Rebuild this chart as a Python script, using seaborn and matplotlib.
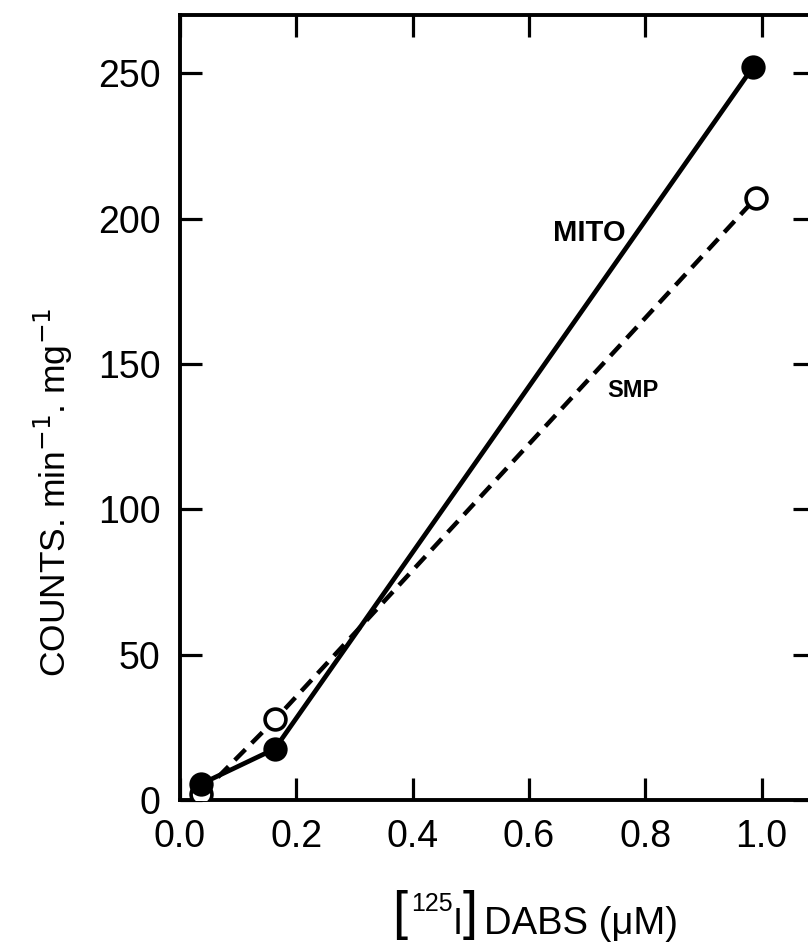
import matplotlib
matplotlib.use("Agg")
import matplotlib.pyplot as plt
import seaborn as sns
import pandas as pd

# Binding of [125I]DABS to mitochondria and submitochondrial particles
dabs_uM_mito = [0.036, 0.163, 0.985]
counts_mito = [5.5, 17.6, 252]
dabs_uM_smp = [0.036, 0.164, 0.99]
counts_smp = [2.0, 27.8, 207]

x_ticks = [0.0, 0.2, 0.4, 0.6, 0.8, 1.0]
x_tick_labels = ["0.0", "0.2", "0.4", "0.6", "0.8", "1.0"]
y_ticks = [0, 50, 100, 150, 200, 250]
y_tick_labels = ["0", "50", "100", "150", "200", "250"]

mito = pd.DataFrame({"dabs": dabs_uM_mito, "counts": counts_mito})
smp = pd.DataFrame({"dabs": dabs_uM_smp, "counts": counts_smp})

sns.set_style("ticks")
plt.rcParams["font.family"] = ["Liberation Sans", "DejaVu Sans"]
plt.rcParams["text.color"] = "black"
plt.rcParams["axes.edgecolor"] = "black"
plt.rcParams["axes.labelcolor"] = "black"
plt.rcParams["xtick.color"] = "black"
plt.rcParams["ytick.color"] = "black"

fig = plt.figure(figsize=(8.08, 9.43), dpi=100)
ax = fig.add_axes([0.2228, 0.1516, 0.7859, 0.8325])

sns.lineplot(data=smp, x="dabs", y="counts", ax=ax, color="black",
             linewidth=3.2, linestyle=(0, (3.4, 2.0)), marker="o",
             markersize=15, markerfacecolor="white", markeredgecolor="black",
             markeredgewidth=2.6, zorder=3)
sns.lineplot(data=mito, x="dabs", y="counts", ax=ax, color="black",
             linewidth=3.4, marker="o", markersize=16,
             markerfacecolor="black", markeredgecolor="black",
             markeredgewidth=1.5, zorder=4)

ax.set_xlim(0, 1.092)
ax.set_ylim(0, 270)
ax.set_xticks(x_ticks)
ax.set_xticklabels(x_tick_labels)
ax.set_yticks(y_ticks)
ax.set_yticklabels(y_tick_labels)

for s in ax.spines.values():
    s.set_linewidth(2.8)
    s.set_visible(True)

ax.tick_params(axis="both", which="major", direction="in", length=16,
               width=2.3, labelsize=27, colors="black")
ax.tick_params(axis="x", top=True, pad=14)
ax.tick_params(axis="y", right=True, pad=14)

ax.set_xlabel("")
ax.set_ylabel("")

ax.text(0.641, 195, "MITO", fontsize=21, fontweight="bold", ha="left", va="center")
ax.text(0.734, 141, "SMP", fontsize=17, fontweight="bold", ha="left", va="center")

fig.text(0.066, 0.478, r"COUNTS. min$^{-1}$. mg$^{-1}$", rotation=90,
         fontsize=25.5, ha="center", va="center")


# x-axis label assembled from pieces: tall brackets around the isotope
def fx(x):
    return x / 808.0


def fy(y):
    return (943 - y) / 943.0


fig.text(fx(392), fy(929), "[", fontsize=39, ha="left", va="baseline")
fig.text(fx(411), fy(911), "125", fontsize=18, ha="left", va="baseline")
fig.text(fx(453), fy(934), "I", fontsize=26, ha="left", va="baseline")
fig.text(fx(463), fy(929), "]", fontsize=39, ha="left", va="baseline")
fig.text(fx(484), fy(934), "DABS (\u03bcM)", fontsize=27.5, ha="left", va="baseline")

fig.savefig("out.png", dpi=100)
